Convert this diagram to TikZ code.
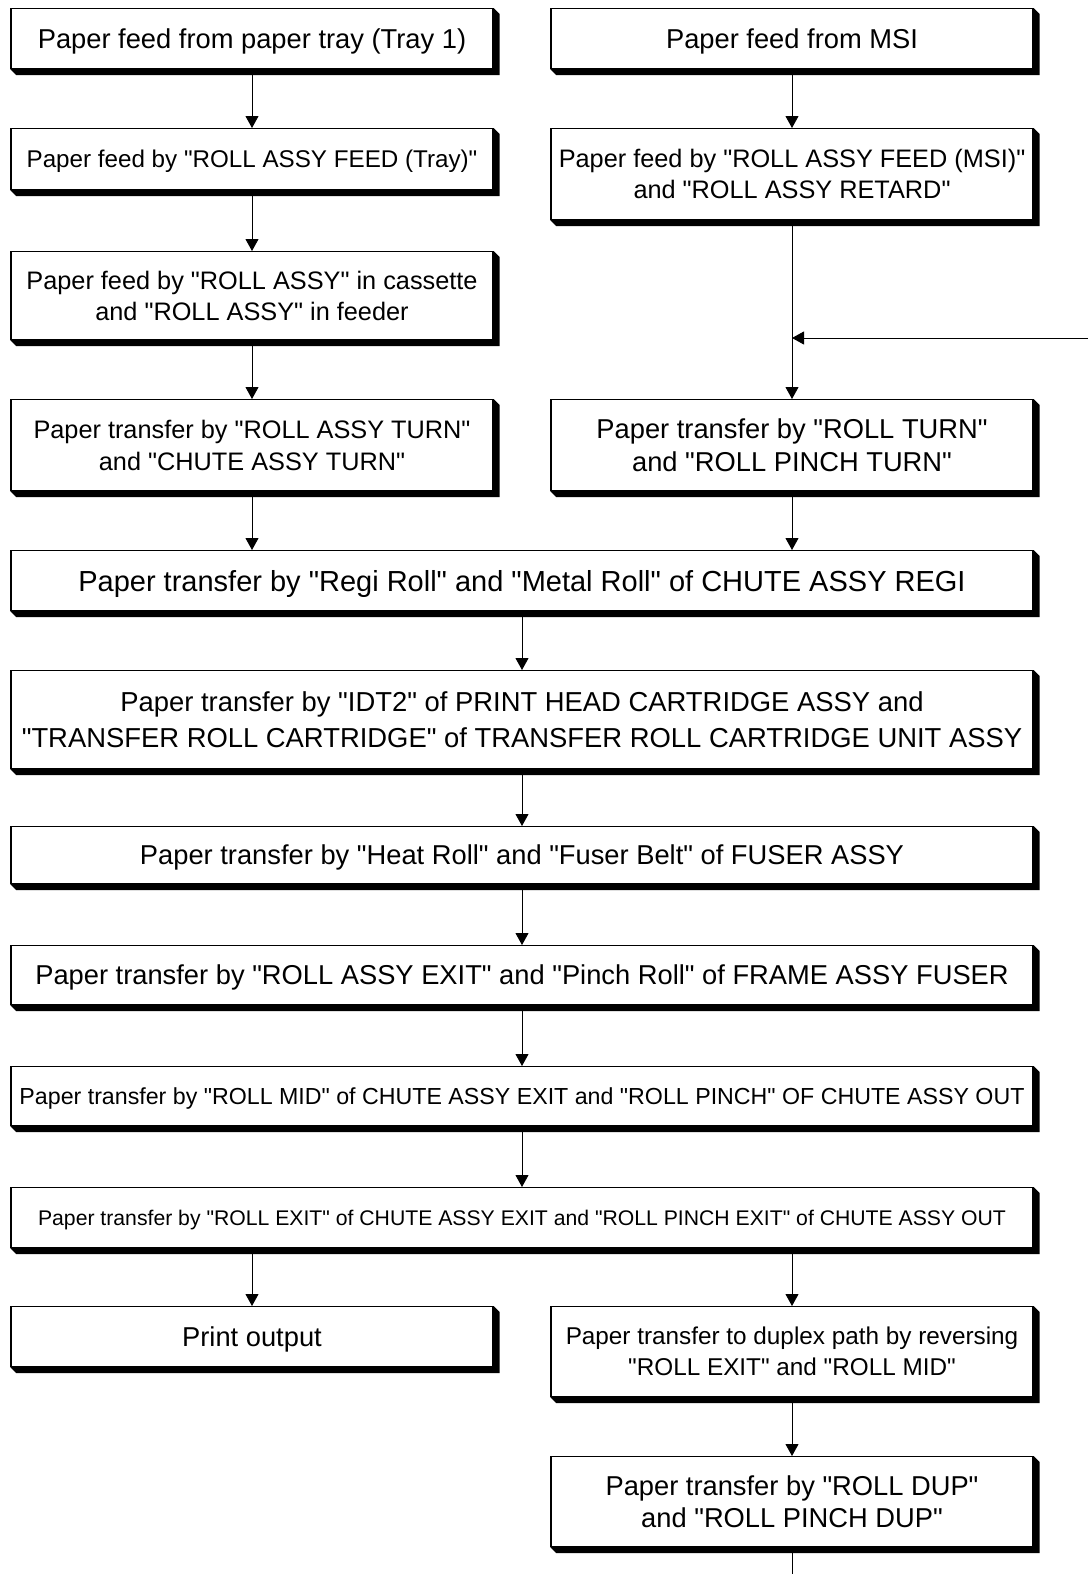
\documentclass[tikz,border=0pt]{standalone}
\usepackage{fontspec}
\setmainfont{Liberation Sans}[Ligatures=TeXOff]
\usetikzlibrary{arrows.meta}

\newcommand{\fsz}[2]{\fontsize{#1}{#2}\selectfont}

\tikzset{
  box/.style={draw, fill=white, line width=1.2pt, align=center, inner sep=0pt,
    anchor=north, minimum width=482pt, font={\fsz{27.3}{32}}},
  widebox/.style={box, minimum width=1022pt},
  single/.style={font={\fsz{#1}{#1}}, text height={0.72*#1pt}, text depth=0pt},
  single/.default=27.3,
  flow/.style={line width=0.9pt, -{Triangle[length=12pt,width=13pt]}},
}

\begin{document}
\begin{tikzpicture}[x=1pt, y=-1pt]
  \useasboundingbox (0,0) rectangle (1088,1574);

  % Tray path (left) and MSI path (right)
  \node[box, single, minimum height=60pt] (tray) at (252,8) {Paper feed from paper tray (Tray 1)};
  \node[box, single, minimum height=60pt] (msi) at (792,8) {Paper feed from MSI};
  \node[box, single=24.2, minimum height=61pt] (feedtray) at (252,128)
    {Paper feed by "ROLL ASSY FEED (Tray)"};
  \node[box, minimum height=91pt, font={\fsz{25.3}{31}}] (feedmsi) at (792,128)
    {Paper feed by "ROLL ASSY FEED (MSI)"\\and "ROLL ASSY RETARD"};
  \node[box, minimum height=88pt, font={\fsz{25.3}{31}}] (cassette) at (252,251)
    {Paper feed by "ROLL ASSY" in cassette\\and "ROLL ASSY" in feeder};
  \node[box, minimum height=91pt, font={\fsz{25.3}{32}}] (assyturn) at (252,399)
    {Paper transfer by "ROLL ASSY TURN"\\and "CHUTE ASSY TURN"};
  \node[box, minimum height=91pt, font={\fsz{27.3}{33}}] (rollturn) at (792,399)
    {Paper transfer by "ROLL TURN"\\and "ROLL PINCH TURN"};

  % Common path
  \node[widebox, single=29, minimum height=60pt] (regi) at (522,550)
    {Paper transfer by "Regi Roll" and "Metal Roll" of CHUTE ASSY REGI};
  \node[widebox, minimum height=98pt, font={\fsz{27.4}{36}}] (idt) at (522,670)
    {Paper transfer by "IDT2" of PRINT HEAD CARTRIDGE ASSY and\\"TRANSFER ROLL CARTRIDGE" of TRANSFER ROLL CARTRIDGE UNIT ASSY};
  \node[widebox, single, minimum height=57pt] (fuser) at (522,826)
    {Paper transfer by "Heat Roll" and "Fuser Belt" of FUSER ASSY};
  \node[widebox, single, minimum height=59pt] (frame) at (522,945)
    {Paper transfer by "ROLL ASSY EXIT" and "Pinch Roll" of FRAME ASSY FUSER};
  \node[widebox, single=23.2, minimum height=59pt] (rollmid) at (522,1066)
    {Paper transfer by "ROLL MID" of CHUTE ASSY EXIT and "ROLL PINCH" OF CHUTE ASSY OUT};
  \node[widebox, single=21.2, minimum height=60pt] (rollexit) at (522,1187)
    {Paper transfer by "ROLL EXIT" of CHUTE ASSY EXIT and "ROLL PINCH EXIT" of CHUTE ASSY OUT};

  % Output and duplex
  \node[box, single, minimum height=60pt] (output) at (252,1306) {Print output};
  \node[box, minimum height=90pt, font={\fsz{24.3}{31}}] (duplex) at (792,1306)
    {Paper transfer to duplex path by reversing\\"ROLL EXIT" and "ROLL MID"};
  \node[box, minimum height=90pt, font={\fsz{27.3}{32}}] (rolldup) at (792,1456)
    {Paper transfer by "ROLL DUP"\\and "ROLL PINCH DUP"};

  % Shadows
  \foreach \n in {tray,msi,feedtray,feedmsi,cassette,assyturn,rollturn,regi,idt,
                  fuser,frame,rollmid,rollexit,output,duplex,rolldup}
    \fill (\n.north east) -- ++(6,6) -- ([shift={(6,6)}]\n.south east)
      -- ([shift={(6,6)}]\n.south west) -- (\n.south west) -- (\n.south east) -- cycle;

  % Arrows
  \draw[flow] (tray) -- (feedtray);
  \draw[flow] (feedtray) -- (cassette);
  \draw[flow] (cassette) -- (assyturn);
  \draw[flow] (msi) -- (feedmsi);
  \draw[flow] (feedmsi) -- (rollturn);
  \draw[flow] (assyturn) -- (assyturn |- regi.north);
  \draw[flow] (rollturn) -- (rollturn |- regi.north);
  \draw[flow] (regi.south -| idt) -- (idt);
  \draw[flow] (idt) -- (fuser);
  \draw[flow] (fuser) -- (frame);
  \draw[flow] (frame) -- (rollmid);
  \draw[flow] (rollmid) -- (rollexit);
  \draw[flow] (rollexit.south -| output) -- (output);
  \draw[flow] (rollexit.south -| duplex) -- (duplex);
  \draw[flow] (duplex) -- (rolldup);

  % Return from duplex path
  \coordinate (back) at (1088,338);
  \draw[flow] (back) -- (back -| feedmsi.south);
  \coordinate (tail) at (792,1574);
  \draw[line width=0.9pt] (rolldup) -- (tail);

\end{tikzpicture}
\end{document}
